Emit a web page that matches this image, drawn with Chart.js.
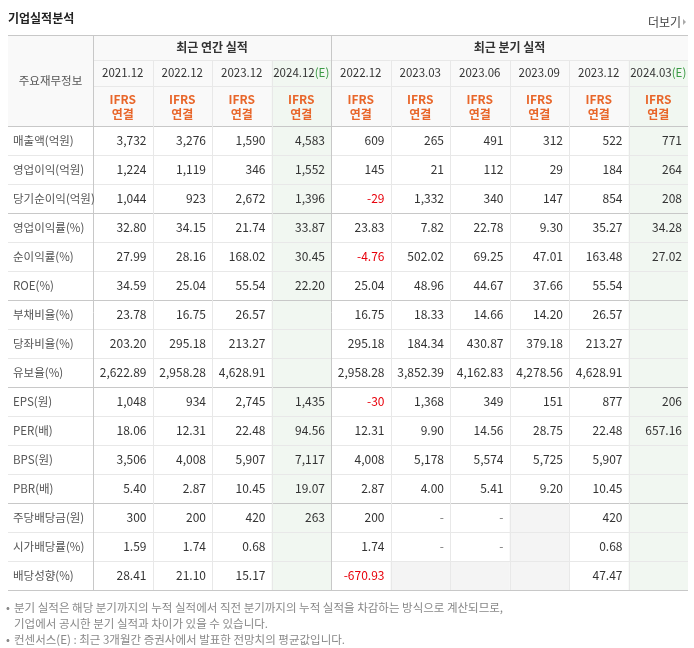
<!DOCTYPE html>
<html><head><meta charset="utf-8">
<script src="https://cdn.jsdelivr.net/npm/chart.js@4"></script>
<style>html,body{margin:0;padding:0;background:#fff}canvas{display:block}</style>
</head><body>
<canvas id="c" width="694" height="648"></canvas>
<script>
const title = "기업실적분석";
const moreLabel = "더보기";
const groupAnnual = "최근 연간 실적";
const groupQuarter = "최근 분기 실적";
const periods = ["2021.12","2022.12","2023.12","2024.12","2022.12","2023.03","2023.06","2023.09","2023.12","2024.03"];
const estimate = [false,false,false,true,false,false,false,false,false,true];
const rowLabels = ["매출액(억원)","영업이익(억원)","당기순이익(억원)","영업이익률(%)","순이익률(%)","ROE(%)","부채비율(%)","당좌비율(%)","유보율(%)","EPS(원)","PER(배)","BPS(원)","PBR(배)","주당배당금(원)","시가배당률(%)","배당성향(%)"];
// null = empty cell, "" = grey empty cell
const 매출액 = ["3,732","3,276","1,590","4,583","609","265","491","312","522","771"];
const 영업이익 = ["1,224","1,119","346","1,552","145","21","112","29","184","264"];
const 당기순이익 = ["1,044","923","2,672","1,396","-29","1,332","340","147","854","208"];
const 영업이익률 = ["32.80","34.15","21.74","33.87","23.83","7.82","22.78","9.30","35.27","34.28"];
const 순이익률 = ["27.99","28.16","168.02","30.45","-4.76","502.02","69.25","47.01","163.48","27.02"];
const ROE = ["34.59","25.04","55.54","22.20","25.04","48.96","44.67","37.66","55.54",null];
const 부채비율 = ["23.78","16.75","26.57",null,"16.75","18.33","14.66","14.20","26.57",null];
const 당좌비율 = ["203.20","295.18","213.27",null,"295.18","184.34","430.87","379.18","213.27",null];
const 유보율 = ["2,622.89","2,958.28","4,628.91",null,"2,958.28","3,852.39","4,162.83","4,278.56","4,628.91",null];
const EPS = ["1,048","934","2,745","1,435","-30","1,368","349","151","877","206"];
const PER = ["18.06","12.31","22.48","94.56","12.31","9.90","14.56","28.75","22.48","657.16"];
const BPS = ["3,506","4,008","5,907","7,117","4,008","5,178","5,574","5,725","5,907",null];
const PBR = ["5.40","2.87","10.45","19.07","2.87","4.00","5.41","9.20","10.45",null];
const 주당배당금 = ["300","200","420","263","200","-","-","","420",null];
const 시가배당률 = ["1.59","1.74","0.68",null,"1.74","-","-","","0.68",null];
const 배당성향 = ["28.41","21.10","15.17",null,"-670.93","","","","47.47",null];
const rowValues = [매출액,영업이익,당기순이익,영업이익률,순이익률,ROE,부채비율,당좌비율,유보율,EPS,PER,BPS,PBR,주당배당금,시가배당률,배당성향];
const notes = ["분기 실적은 해당 분기까지의 누적 실적에서 직전 분기까지의 누적 실적을 차감하는 방식으로 계산되므로,","기업에서 공시한 분기 실적과 차이가 있을 수 있습니다.","컨센서스(E) : 최근 3개월간 증권사에서 발표한 전망치의 평균값입니다."];

const F = '"Noto Sans CJK KR", "Noto Sans", sans-serif';
const tablePlugin = {
  id:'table',
  afterDraw(chart){
    const ctx = chart.ctx, xs = chart.scales.x, ys = chart.scales.y, a = chart.chartArea;
    const colW = (a.right-a.left)/periods.length, rowH = (a.bottom-a.top)/rowLabels.length;
    const L = 8, T = 35, h1 = 25, h2 = 26;
    ctx.save();
    ctx.fillStyle = '#f9f9f9'; ctx.fillRect(L,T,a.right-L,a.top-T);
    periods.forEach((p,i)=>{
      const cx = xs.getPixelForValue(i);
      if (estimate[i]) { ctx.fillStyle='#f1f7f1'; ctx.fillRect(cx-colW/2,T+h1,colW,a.bottom-T-h1); }
    });
    rowValues.forEach((vals,r)=>{
      const cy = ys.getPixelForValue(r);
      vals.forEach((v,i)=>{
        if (v==="") { ctx.fillStyle='#f4f4f4'; ctx.fillRect(xs.getPixelForValue(i)-colW/2,cy-rowH/2,colW,rowH); }
      });
    });
    const hl=(y,c)=>{ctx.strokeStyle=c;ctx.lineWidth=1;ctx.beginPath();ctx.moveTo(L,Math.round(y)+0.5);ctx.lineTo(a.right,Math.round(y)+0.5);ctx.stroke();};
    const vl=(x,y0,y1,c)=>{ctx.strokeStyle=c;ctx.lineWidth=1;ctx.beginPath();ctx.moveTo(Math.round(x)+0.5,y0);ctx.lineTo(Math.round(x)+0.5,y1);ctx.stroke();};
    for (let r=1;r<rowLabels.length;r++){
      const y = a.top + r*rowH;
      hl(y, [3,6,9,13].includes(r) ? '#c8c8c8' : '#e8e8e8');
    }
    ctx.strokeStyle='#e8e8e8';ctx.beginPath();ctx.moveTo(a.left,T+h1+0.5);ctx.lineTo(a.right,T+h1+0.5);ctx.moveTo(a.left,T+h1+h2+0.5);ctx.lineTo(a.right,T+h1+h2+0.5);ctx.stroke();
    hl(T,'#c8c8c8'); hl(a.top,'#c8c8c8'); hl(a.bottom,'#c8c8c8');
    vl(a.left,T,a.bottom,'#c8c8c8');
    for (let i=1;i<periods.length;i++){
      const x = a.left+i*colW;
      if (i===4) vl(x,T,a.bottom,'#c8c8c8'); else vl(x,T+h1,a.bottom,'#e8e8e8');
    }
    ctx.textBaseline='middle';
    ctx.fillStyle='#222'; ctx.font='bold 12px '+F; ctx.textAlign='left'; ctx.fillText(title,8,18);
    ctx.fillStyle='#444'; ctx.font='12px '+F; ctx.textAlign='right'; ctx.fillText(moreLabel,681,22);
    ctx.fillStyle='#aaa'; ctx.beginPath(); ctx.moveTo(683,19); ctx.lineTo(686,22); ctx.lineTo(683,25); ctx.fill();
    ctx.fillStyle='#333'; ctx.font='bold 12px '+F; ctx.textAlign='center';
    ctx.fillText(groupAnnual,(a.left+a.left+4*colW)/2,T+h1/2);
    ctx.fillText(groupQuarter,(a.left+4*colW+a.right)/2,T+h1/2);
    ctx.fillStyle='#555'; ctx.font='11.5px '+F; ctx.fillText('주요재무정보',(L+a.left)/2,(T+a.top)/2);
    periods.forEach((p,i)=>{
      const cx = xs.getPixelForValue(i);
      ctx.font='11.5px '+F;
      if (estimate[i]) {
        const w1 = ctx.measureText(p).width, w2 = ctx.measureText('(E)').width, s = cx-(w1+w2)/2;
        ctx.textAlign='left'; ctx.fillStyle='#333'; ctx.fillText(p,s,T+h1+h2/2);
        ctx.fillStyle='#3b9a45'; ctx.fillText('(E)',s+w1,T+h1+h2/2);
      } else { ctx.textAlign='center'; ctx.fillStyle='#333'; ctx.fillText(p,cx,T+h1+h2/2); }
      ctx.textAlign='center'; ctx.fillStyle='#e8662a'; ctx.font='bold 12px '+F;
      const my = (T+h1+h2+a.top)/2;
      ctx.fillText('IFRS',cx,my-7); ctx.fillText('연결',cx,my+8);
    });
    rowLabels.forEach((lab,r)=>{
      const cy = ys.getPixelForValue(r);
      ctx.font='11.5px '+F; ctx.textAlign='left'; ctx.fillStyle='#555'; ctx.fillText(lab,13,cy);
      ctx.textAlign='right'; ctx.font='12px '+F;
      rowValues[r].forEach((v,i)=>{
        if (!v) return;
        ctx.fillStyle = v.startsWith('-') && v.length>1 ? '#e8000b' : (v==='-'?'#777':'#333');
        ctx.fillText(v, xs.getPixelForValue(i)+colW/2-6, cy);
      });
    });
    ctx.font='11.5px '+F; ctx.textAlign='left'; ctx.fillStyle='#888';
    ctx.fillText('•',6,608); ctx.fillText(notes[0],14,608);
    ctx.fillText(notes[1],14,624);
    ctx.fillText('•',6,640); ctx.fillText(notes[2],14,640);
    ctx.restore();
  }
};
new Chart(document.getElementById('c'),{
  type:'bar',
  data:{labels:periods.map((p,i)=>i),datasets:[{data:[],backgroundColor:'transparent'}]},
  options:{responsive:false,animation:false,events:[],
    layout:{padding:{left:93,top:126,right:6,bottom:58}},
    plugins:{legend:{display:false},tooltip:{enabled:false}},
    scales:{
      x:{type:'category',labels:periods.map((p,i)=>i),display:false,offset:true},
      y:{type:'category',labels:rowLabels.map((r,i)=>i),display:false,offset:true}
    }},
  plugins:[tablePlugin]
});
</script>
</body></html>
